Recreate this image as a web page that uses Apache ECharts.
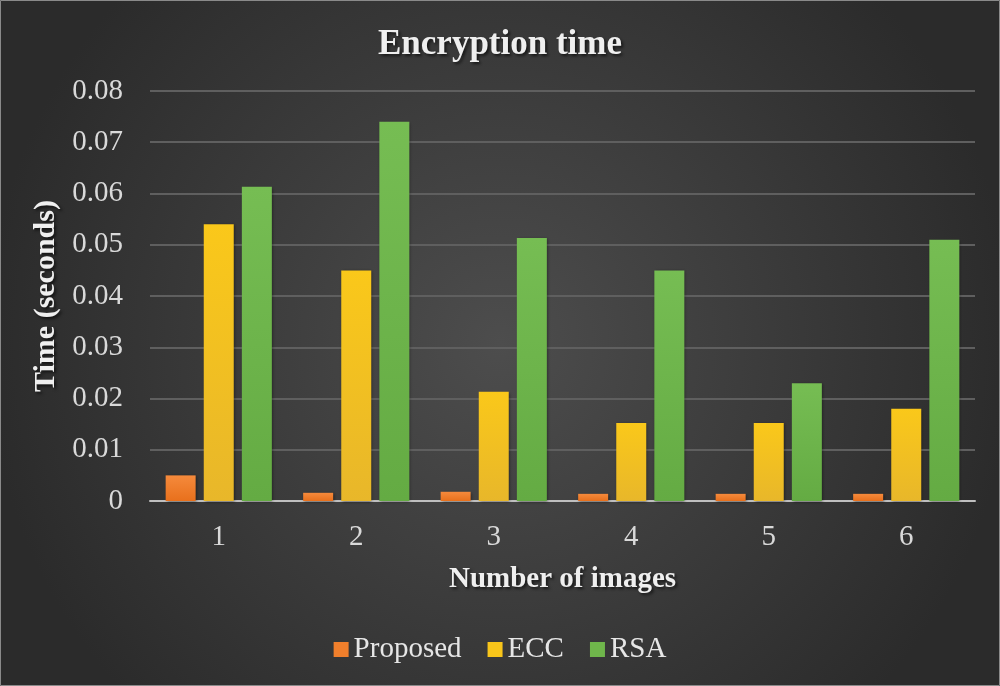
<!DOCTYPE html>
<html>
<head>
<meta charset="utf-8">
<script src="https://cdn.jsdelivr.net/npm/echarts@6/dist/echarts.min.js"></script>
<style>
  html, body { margin: 0; padding: 0; background: #333; }
  #chart { width: 1000px; height: 686px; }
</style>
</head>
<body>
<div id="chart"></div>
<script>
// chart data
const categories = ['1', '2', '3', '4', '5', '6'];
const proposed = [0.005, 0.0016, 0.0018, 0.0014, 0.0014, 0.0014];
const ecc = [0.054, 0.045, 0.0213, 0.0152, 0.0152, 0.018];
const rsa = [0.0613, 0.074, 0.0513, 0.045, 0.023, 0.051];

const serif = '"Liberation Serif", "DejaVu Serif", serif';

const barColor = (top, bottom) => new echarts.graphic.LinearGradient(0, 0, 0, 1, [
    { offset: 0, color: top },
    { offset: 1, color: bottom }
]);

const makeSeries = (name, data, top, bottom) => ({
    name: name,
    type: 'bar',
    data: data,
    barWidth: 30,
    barGap: '27%',
    itemStyle: {
        color: barColor(top, bottom),
        shadowBlur: 3,
        shadowOffsetX: 1,
        shadowOffsetY: 1,
        shadowColor: 'rgba(0, 0, 0, 0.45)'
    }
});

// bold labels with the soft drop shadow of the original
const boldText = size => ({
    color: '#efefef', fontFamily: serif, fontSize: size, fontWeight: 'bold',
    textShadowColor: 'rgba(0, 0, 0, 0.6)', textShadowBlur: 3,
    textShadowOffsetX: 2, textShadowOffsetY: 2
});

const chart = echarts.init(document.getElementById('chart'));
chart.setOption({
    backgroundColor: new echarts.graphic.RadialGradient(0.5, 0.5, 0.75, [
        { offset: 0, color: '#4d4d4d' },
        { offset: 1, color: '#2b2b2b' }
    ]),
    animation: false,
    graphic: [{
        type: 'rect',
        shape: { x: 0.5, y: 0.5, width: 999, height: 685 },
        style: { fill: 'none', stroke: '#8a8a8a', lineWidth: 1 },
        silent: true
    }],
    title: {
        text: 'Encryption time',
        left: 'center',
        top: 22,
        textStyle: boldText(35)
    },
    legend: {
        bottom: 17,
        left: 'center',
        itemWidth: 15,
        itemHeight: 15,
        itemGap: 26,
        icon: 'rect',
        textStyle: { color: '#e6e6e6', fontFamily: serif, fontSize: 29 },
        data: [
            { name: 'Proposed', itemStyle: { color: '#f07f2c' } },
            { name: 'ECC', itemStyle: { color: '#f8c51a' } },
            { name: 'RSA', itemStyle: { color: '#6fb64b' } }
        ]
    },
    grid: { left: 150, right: 25, top: 91, bottom: 185, containLabel: false },
    xAxis: {
        type: 'category',
        data: categories,
        name: 'Number of images',
        nameLocation: 'middle',
        nameGap: 64,
        nameTextStyle: boldText(29),
        axisLine: { lineStyle: { color: '#bfbfbf', width: 2 } },
        axisTick: { show: false },
        axisLabel: { color: '#d9d9d9', fontFamily: serif, fontSize: 29, margin: 22 }
    },
    yAxis: {
        type: 'value',
        min: 0,
        max: 0.08,
        interval: 0.01,
        name: 'Time (seconds)',
        nameLocation: 'middle',
        nameGap: 86,
        nameTextStyle: boldText(30),
        axisLine: { show: false },
        axisTick: { show: false },
        axisLabel: {
            color: '#d9d9d9', fontFamily: serif, fontSize: 29, margin: 27,
            formatter: v => v === 0 ? '0' : v.toFixed(2)
        },
        splitLine: { lineStyle: { color: '#5f5f5f', width: 2 } }
    },
    series: [
        makeSeries('Proposed', proposed, '#f58a3c', '#e8701c'),
        makeSeries('ECC', ecc, '#fac81a', '#e8b72a'),
        makeSeries('RSA', rsa, '#76bd53', '#64ab43')
    ]
});
</script>
</body>
</html>
